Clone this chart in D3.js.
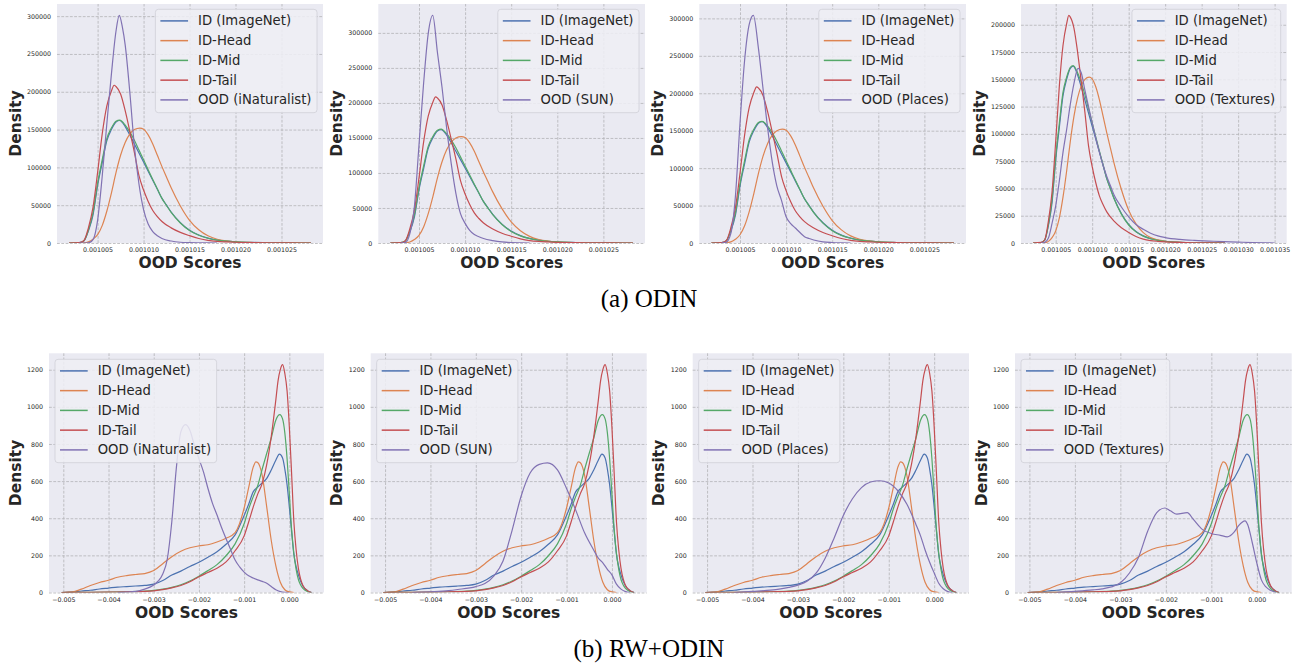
<!DOCTYPE html>
<html>
<head>
<meta charset="utf-8">
<script src="https://cdn.jsdelivr.net/npm/d3@7"></script>
<style>
  html, body { margin: 0; padding: 0; background: #ffffff; }
  svg { display: block; font-family: "DejaVu Sans", sans-serif; }
</style>
</head>
<body>
<svg id="fig" width="1298" height="664"></svg>
<script>
// ---------------------------------------------------------------
// Series labels and colours (seaborn "deep" palette)
// ---------------------------------------------------------------
const idLabels = ["ID (ImageNet)", "ID-Head", "ID-Mid", "ID-Tail"];
const oodLabels = ["OOD (iNaturalist)", "OOD (SUN)", "OOD (Places)", "OOD (Textures)"];
const idColors = ["#4c72b0", "#dd8452", "#55a868", "#c44e52"];
const oodColor = "#8172b3";
const captions = ["(a) ODIN", "(b) RW+ODIN"];

// ---------------------------------------------------------------
// ODIN score densities: [score, density]
// ---------------------------------------------------------------
const odinImageNet = [[0.0010019,0],[0.001003,400],[0.0010035,2600],[0.001004,16000],[0.0010045,37000],[0.001005,76000],[0.0010055,106000],[0.001006,135000],[0.0010065,150000],[0.001007,160000],[0.0010074,162000],[0.001008,154000],[0.0010085,143000],[0.001009,131000],[0.0010095,119000],[0.00101,107000],[0.0010105,95000],[0.001011,83000],[0.0010115,71000],[0.001012,59000],[0.0010125,50000],[0.001013,41000],[0.001014,27000],[0.001015,17000],[0.001016,10500],[0.001017,6500],[0.001018,4000],[0.001019,2500],[0.00102,1600],[0.001022,700],[0.001024,250],[0.001026,80],[0.0010282,0]];
const odinHead = [[0.0010019,0],[0.001003,0],[0.0010035,200],[0.001004,1500],[0.0010045,5000],[0.001005,11000],[0.0010055,23000],[0.001006,42000],[0.0010065,66000],[0.001007,93000],[0.0010075,116000],[0.001008,133000],[0.0010085,144000],[0.001009,150000],[0.0010096,152000],[0.00101,150500],[0.0010105,143000],[0.001011,131000],[0.0010115,116000],[0.001012,101000],[0.0010125,87000],[0.001013,73000],[0.001014,49000],[0.001015,30000],[0.001016,17500],[0.001017,9500],[0.001018,5000],[0.001019,2800],[0.00102,1600],[0.001022,600],[0.001024,200],[0.001026,80],[0.0010282,0]];
const odinMid = [[0.0010019,0],[0.001003,400],[0.0010035,2800],[0.001004,17000],[0.0010045,40000],[0.001005,79000],[0.0010055,110000],[0.001006,138000],[0.0010065,152000],[0.001007,161000],[0.0010074,162500],[0.001008,156000],[0.0010085,147000],[0.001009,136000],[0.0010095,123000],[0.00101,110000],[0.0010105,97000],[0.001011,84000],[0.0010115,71500],[0.001012,59000],[0.0010125,49500],[0.001013,40500],[0.001014,26500],[0.001015,16500],[0.001016,10200],[0.001017,6300],[0.001018,3900],[0.001019,2400],[0.00102,1500],[0.001022,600],[0.001024,200],[0.001026,60],[0.0010282,0]];
const odinTail = [[0.0010019,0],[0.001003,500],[0.0010035,3000],[0.001004,20000],[0.0010045,47000],[0.001005,93000],[0.0010055,144000],[0.001006,181000],[0.0010065,201000],[0.0010068,208600],[0.001007,207000],[0.0010075,197000],[0.001008,175000],[0.0010085,148000],[0.001009,120000],[0.0010095,89000],[0.00101,70000],[0.0010105,55000],[0.001011,43000],[0.0010115,35000],[0.001012,28500],[0.001013,20000],[0.001014,14000],[0.001015,9700],[0.001016,6000],[0.001017,3500],[0.001018,2200],[0.001019,1500],[0.00102,1000],[0.001022,500],[0.001024,200],[0.001026,60],[0.0010282,0]];
const odinINaturalist = [[0.001003,0],[0.001004,300],[0.0010045,4500],[0.001005,30000],[0.0010055,88000],[0.001006,157000],[0.0010065,223000],[0.001007,280000],[0.00100736,301000],[0.0010077,285000],[0.001008,262000],[0.0010085,200000],[0.001009,128000],[0.0010095,78000],[0.00101,44000],[0.0010105,25000],[0.001011,15000],[0.0010115,9500],[0.001012,6000],[0.001013,2600],[0.001014,1000],[0.001015,500],[0.001016,250],[0.001017,100],[0.001018,0]];
const odinSUN = [[0.001003,0],[0.0010035,500],[0.001004,13000],[0.0010045,52000],[0.001005,140000],[0.0010055,228000],[0.001006,299000],[0.00100649,325000],[0.001007,272000],[0.0010075,222000],[0.001008,164000],[0.0010085,113000],[0.001009,71000],[0.0010095,42000],[0.00101,28000],[0.0010105,18000],[0.001011,12000],[0.0010115,9000],[0.001012,6500],[0.001013,3500],[0.001014,1500],[0.001015,500],[0.001016,150],[0.001017,0]];
const odinPlaces = [[0.001003,0],[0.0010035,800],[0.001004,12400],[0.0010045,62000],[0.001005,160000],[0.0010055,244000],[0.001006,292000],[0.00100645,304000],[0.001007,260000],[0.0010075,206000],[0.001008,153000],[0.0010085,108000],[0.001009,76000],[0.0010095,57000],[0.00101,35000],[0.0010105,26000],[0.001011,20000],[0.0010115,14000],[0.001012,8500],[0.0010125,6000],[0.001013,4000],[0.001014,1500],[0.001015,600],[0.001016,200],[0.001017,0]];
const odinTextures = [[0.001003,0],[0.0010035,500],[0.001004,4500],[0.0010045,18000],[0.001005,34000],[0.0010055,57000],[0.001006,83000],[0.0010065,104000],[0.001007,127000],[0.0010075,146000],[0.00100806,160000],[0.0010085,156000],[0.001009,140000],[0.0010095,125000],[0.00101,110000],[0.0010105,96000],[0.001011,83000],[0.0010115,71000],[0.001012,61000],[0.0010125,52500],[0.001013,44000],[0.001014,33000],[0.001015,24000],[0.001016,17000],[0.001017,12500],[0.001018,9000],[0.001019,6500],[0.00102,5000],[0.001022,3300],[0.001024,2400],[0.001026,1800],[0.001028,1200],[0.00103,800],[0.001032,400],[0.001035,0]];

// ---------------------------------------------------------------
// RW+ODIN score densities: [score, density]
// ---------------------------------------------------------------
const rwImageNet = [[-0.00504,0],[-0.0048,3],[-0.0046,8],[-0.0044,12],[-0.0042,19],[-0.004,24],[-0.0038,29],[-0.0036,32],[-0.0034,35],[-0.0032,38],[-0.003,45],[-0.0028,65],[-0.0026,94],[-0.0024,115],[-0.0022,140],[-0.002,163],[-0.0018,190],[-0.0016,220],[-0.0014,260],[-0.0012,310],[-0.001,415],[-0.0009,475],[-0.0008,542],[-0.0007,568],[-0.0006,590],[-0.0005,615],[-0.0004,660],[-0.0003,712],[-0.00022,745],[-0.00015,725],[-0.0001,665],[-0.00005,580],[0,460],[0.00005,330],[0.0001,205],[0.00015,140],[0.0002,95],[0.00025,60],[0.0003,35],[0.0004,10],[0.00049,0]];
const rwHead = [[-0.00504,0],[-0.0048,3],[-0.0046,18],[-0.0044,38],[-0.0042,54],[-0.004,66],[-0.0038,82],[-0.0036,91],[-0.0034,97],[-0.0032,102],[-0.003,118],[-0.0028,155],[-0.0026,193],[-0.0024,222],[-0.0022,241],[-0.002,251],[-0.0018,257],[-0.0016,272],[-0.0014,292],[-0.0012,322],[-0.001,455],[-0.0009,565],[-0.0008,675],[-0.00074,704],[-0.0007,700],[-0.0006,630],[-0.0005,460],[-0.0004,280],[-0.0003,145],[-0.0002,55],[-0.0001,15],[0,3],[0.0001,0]];
const rwMid = [[-0.00504,0],[-0.0044,1],[-0.004,2],[-0.0036,4],[-0.0032,7],[-0.003,11],[-0.0028,18],[-0.0026,28],[-0.0024,42],[-0.0022,62],[-0.002,88],[-0.0018,118],[-0.0016,150],[-0.0014,198],[-0.0012,262],[-0.001,370],[-0.0009,450],[-0.0008,515],[-0.0007,575],[-0.0006,665],[-0.0005,750],[-0.0004,832],[-0.0003,928],[-0.00021,958],[-0.00015,935],[-0.0001,860],[-0.00005,720],[0,530],[0.00005,340],[0.0001,210],[0.00015,125],[0.0002,70],[0.00025,40],[0.0003,22],[0.0004,5],[0.00049,0]];
const rwTail = [[-0.00504,0],[-0.0044,1],[-0.004,2],[-0.0036,4],[-0.0032,6],[-0.003,9],[-0.0028,15],[-0.0026,25],[-0.0024,38],[-0.0022,58],[-0.002,85],[-0.0018,108],[-0.0016,131],[-0.0014,165],[-0.0012,225],[-0.001,305],[-0.0009,380],[-0.0008,460],[-0.0007,530],[-0.0006,588],[-0.0005,690],[-0.0004,840],[-0.0003,1035],[-0.00025,1140],[-0.0002,1200],[-0.00015,1227],[-0.0001,1180],[-0.00005,1085],[0,890],[0.00005,640],[0.0001,381],[0.00015,230],[0.0002,130],[0.00025,72],[0.0003,38],[0.0004,10],[0.00049,0]];
const rwINaturalist = [[-0.0038,0],[-0.0034,6],[-0.0032,18],[-0.003,40],[-0.0029,62],[-0.0028,100],[-0.0027,180],[-0.0026,381],[-0.0025,670],[-0.0024,865],[-0.0023,904],[-0.0022,874],[-0.0021,792],[-0.002,720],[-0.0019,650],[-0.0018,560],[-0.0017,480],[-0.0016,417],[-0.0015,350],[-0.0014,290],[-0.0013,232],[-0.0012,175],[-0.0011,138],[-0.001,110],[-0.0009,90],[-0.0008,78],[-0.0007,68],[-0.0006,60],[-0.0005,50],[-0.0004,32],[-0.0003,15],[-0.0002,5],[-0.0001,1],[0,0]];
const rwSUN = [[-0.0044,0],[-0.004,4],[-0.0036,10],[-0.0034,16],[-0.003,32],[-0.0028,48],[-0.0026,90],[-0.0024,170],[-0.0022,335],[-0.002,520],[-0.0018,645],[-0.0016,690],[-0.00142,698],[-0.0012,660],[-0.001,560],[-0.0008,445],[-0.0006,320],[-0.0004,228],[-0.0003,185],[-0.0002,160],[-0.0001,125],[0,95],[0.0001,45],[0.0002,18],[0.0003,5],[0.0004,0]];
const rwPlaces = [[-0.0044,0],[-0.004,6],[-0.0036,13],[-0.0032,28],[-0.003,40],[-0.0028,60],[-0.0026,104],[-0.0024,185],[-0.0022,295],[-0.002,415],[-0.0018,505],[-0.0016,565],[-0.0014,595],[-0.0012,602],[-0.001,590],[-0.0008,548],[-0.0006,475],[-0.0004,365],[-0.0003,305],[-0.0002,229],[-0.0001,163],[0,105],[0.0001,50],[0.0002,20],[0.0003,5],[0.0004,0]];
const rwTextures = [[-0.0044,0],[-0.004,6],[-0.0036,14],[-0.0034,20],[-0.0032,30],[-0.003,52],[-0.0028,105],[-0.0026,190],[-0.0024,330],[-0.0022,430],[-0.00202,455],[-0.0019,440],[-0.00176,422],[-0.00153,430],[-0.0014,395],[-0.0012,340],[-0.001,318],[-0.0008,308],[-0.00065,300],[-0.0005,325],[-0.0004,360],[-0.00026,386],[-0.0002,365],[-0.0001,268],[0,158],[0.0001,68],[0.0002,30],[0.0003,12],[0.00042,0]];

// ---------------------------------------------------------------
// Tick values and labels
// ---------------------------------------------------------------
const odinXTicks = [0.001005, 0.00101, 0.001015, 0.00102, 0.001025];
const odinXTickLabels = ["0.001005", "0.001010", "0.001015", "0.001020", "0.001025"];
const odinXTicksWide = [0.001005, 0.00101, 0.001015, 0.00102, 0.001025, 0.00103, 0.001035];
const odinXTickLabelsWide = ["0.001005", "0.001010", "0.001015", "0.001020", "0.001025", "0.001030", "0.001035"];
const odinYTicks = [0, 50000, 100000, 150000, 200000, 250000, 300000];
const odinYTicksFine = [0, 25000, 50000, 75000, 100000, 125000, 150000, 175000, 200000];
const rwXTicks = [-0.005, -0.004, -0.003, -0.002, -0.001, 0];
const rwXTickLabels = ["\u22120.005", "\u22120.004", "\u22120.003", "\u22120.002", "\u22120.001", "0.000"];
const rwYTicks = [0, 200, 400, 600, 800, 1000, 1200];

// ---------------------------------------------------------------
// Figure layout
// ---------------------------------------------------------------
const W = 1298, H = 664;
const svg = d3.select("#fig");
svg.append("rect").attr("width", W).attr("height", H).attr("fill", "#ffffff");

const rows = [
  {
    top: 4, bottom: 243, xLabelY: 263, captionY: 298, caption: captions[0],
    lefts: [57, 378.3, 699.3, 1021], rights: [323, 645, 966, 1286.7],
    legendSide: "right",
    id: [odinImageNet, odinHead, odinMid, odinTail],
    ood: [odinINaturalist, odinSUN, odinPlaces, odinTextures],
    xTicks: [odinXTicks, odinXTicks, odinXTicks, odinXTicksWide],
    xTickLabels: [odinXTickLabels, odinXTickLabels, odinXTickLabels, odinXTickLabelsWide],
    yTicks: [odinYTicks, odinYTicks, odinYTicks, odinYTicksFine]
  },
  {
    top: 353.3, bottom: 592.5, xLabelY: 613.3, captionY: 648, caption: captions[1],
    lefts: [49, 370.7, 692.7, 1015], rights: [324, 646.7, 969, 1291.7],
    legendSide: "left",
    id: [rwImageNet, rwHead, rwMid, rwTail],
    ood: [rwINaturalist, rwSUN, rwPlaces, rwTextures],
    xTicks: [rwXTicks, rwXTicks, rwXTicks, rwXTicks],
    xTickLabels: [rwXTickLabels, rwXTickLabels, rwXTickLabels, rwXTickLabels],
    yTicks: [rwYTicks, rwYTicks, rwYTicks, rwYTicks]
  }
];

const TEXT = "#262626";
const TICK_FONT = 6.3;
const LEGEND_FONT = 13.2;
const LABEL_FONT = 15.5;

let clipId = 0;

rows.forEach(row => {
  for (let p = 0; p < 4; p++) {
    const left = row.lefts[p], right = row.rights[p];
    const top = row.top, bottom = row.bottom;
    const series = row.id.concat([row.ood[p]]);
    const colors = idColors.concat([oodColor]);
    const labels = idLabels.concat([oodLabels[p]]);

    // Domains: data extent with 5% side margins, density from 0 with 5% headroom
    const allX = series.flatMap(s => s.map(d => d[0]));
    const [x0, x1] = d3.extent(allX);
    const xm = (x1 - x0) * 0.05;
    const yMax = d3.max(series, s => d3.max(s, d => d[1]));

    const x = d3.scaleLinear().domain([x0 - xm, x1 + xm]).range([left, right]);
    const y = d3.scaleLinear().domain([0, yMax * 1.05]).range([bottom, top]);

    const g = svg.append("g").style("color", TEXT);

    // plot background
    g.append("rect")
      .attr("x", left).attr("y", top)
      .attr("width", right - left).attr("height", bottom - top)
      .attr("fill", "#eaeaf2");

    // x axis with grid
    const xTicks = row.xTicks[p], xLabs = row.xTickLabels[p];
    const gx = g.append("g")
      .attr("transform", `translate(0,${bottom})`)
      .call(d3.axisBottom(x)
        .tickValues(xTicks)
        .tickFormat(d => xLabs[xTicks.indexOf(d)])
        .tickSize(-(bottom - top))
        .tickPadding(5));

    // y axis with grid
    const yTicks = row.yTicks[p];
    const gy = g.append("g")
      .attr("transform", `translate(${left},0)`)
      .call(d3.axisLeft(y)
        .tickValues(yTicks)
        .tickFormat(d => String(d))
        .tickSize(-(right - left))
        .tickPadding(6));

    [gx, gy].forEach(ax => {
      ax.attr("font-family", null).attr("font-size", null);
      ax.select(".domain").remove();
      ax.selectAll(".tick line")
        .attr("stroke", "#b2b2b6")
        .attr("stroke-width", 0.8)
        .attr("stroke-dasharray", "2.8,1.5");
      ax.selectAll(".tick text")
        .attr("fill", TEXT)
        .style("fill", TEXT)
        .style("font-family", "'DejaVu Sans', sans-serif")
        .style("font-size", TICK_FONT + "px");
    });

    // curves
    const cid = "clip" + (clipId++);
    g.append("clipPath").attr("id", cid)
      .append("rect").attr("x", left).attr("y", top)
      .attr("width", right - left).attr("height", bottom - top);

    const line = d3.line()
      .x(d => x(d[0]))
      .y(d => y(d[1]))
      .curve(d3.curveMonotoneX);

    const curves = g.append("g").attr("clip-path", `url(#${cid})`);
    series.forEach((s, i) => {
      curves.append("path")
        .datum(s)
        .attr("d", line)
        .attr("fill", "none")
        .attr("stroke", colors[i])
        .attr("stroke-width", 1.2)
        .attr("stroke-linejoin", "round");
    });

    // legend
    const lg = g.append("g");
    const box = lg.append("rect");
    const texts = labels.map((lab, i) =>
      lg.append("text")
        .style("fill", TEXT)
        .style("font-size", LEGEND_FONT + "px")
        .attr("dominant-baseline", "central")
        .text(lab));
    const maxW = d3.max(texts, t => t.node().getComputedTextLength());
    const boxW = 42.7 + maxW + 5.5;
    const boxH = 103.4;
    const boxX = row.legendSide === "right" ? right - 6 - boxW : left + 6;
    const boxY = top + (row.legendSide === "right" ? 5.3 : 6);
    box.attr("x", boxX).attr("y", boxY)
      .attr("width", boxW).attr("height", boxH)
      .attr("rx", 3).attr("ry", 3)
      .attr("fill", "#eeeef5").attr("fill-opacity", 0.85)
      .attr("stroke", "#d2d2da").attr("stroke-width", 0.9);
    texts.forEach((t, i) => {
      const ry = boxY + 11.6 + i * 19.75;
      t.attr("x", boxX + 42.7).attr("y", ry);
      lg.append("line")
        .attr("x1", boxX + 5).attr("x2", boxX + 32.7)
        .attr("y1", ry).attr("y2", ry)
        .attr("stroke", colors[i]).attr("stroke-width", 1.5);
    });

    // axis titles
    const maxTickW = d3.max(gy.selectAll(".tick text").nodes(), n => n.getComputedTextLength());
    g.append("text")
      .attr("transform", `translate(${left - 6 - maxTickW - 11.3},${(top + bottom) / 2}) rotate(-90)`)
      .attr("text-anchor", "middle")
      .attr("dominant-baseline", "central")
      .style("fill", TEXT)
      .style("font-weight", "bold")
      .style("font-size", LABEL_FONT + "px")
      .text("Density");
    g.append("text")
      .attr("x", (left + right) / 2)
      .attr("y", row.xLabelY)
      .attr("text-anchor", "middle")
      .attr("dominant-baseline", "central")
      .style("fill", TEXT)
      .style("font-weight", "bold")
      .style("font-size", LABEL_FONT + "px")
      .text("OOD Scores");
  }

  // row caption
  svg.append("text")
    .attr("x", W / 2)
    .attr("y", row.captionY)
    .attr("text-anchor", "middle")
    .attr("dominant-baseline", "central")
    .style("fill", "#000")
    .style("font-family", "'Liberation Serif', 'Times New Roman', serif")
    .style("font-size", "25px")
    .text(row.caption);
});
</script>
</body>
</html>
